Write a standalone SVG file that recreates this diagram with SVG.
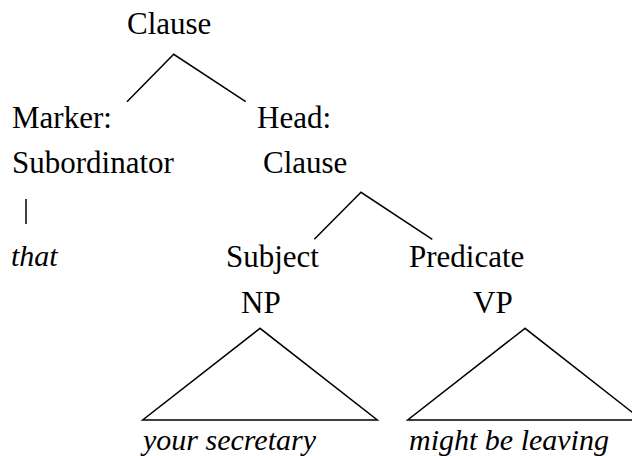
<svg xmlns="http://www.w3.org/2000/svg" width="632" height="456" viewBox="0 0 632 456">
<rect width="632" height="456" fill="#fff"/>
<g id="connectors" stroke="#000" stroke-width="1.5" fill="none">
<polyline points="127,101.7 173.7,54.3 245.7,101.7"/>
<polyline points="314.3,239.3 361,192.3 432.3,239.3"/>
<line x1="26" y1="199" x2="26" y2="224"/>
<polygon points="260,328.3 142.7,420 377.3,420"/>
<polygon points="525,328.3 407.7,420 642,420"/>
</g>
<g id="n-clause"><text x="127" y="34" font-family="Liberation Serif" font-size="31">Clause</text></g>
<g id="n-marker"><text x="12" y="128" font-family="Liberation Serif" font-size="31">Marker:</text><text x="12" y="173" font-family="Liberation Serif" font-size="31">Subordinator</text></g>
<g id="n-head"><text x="257" y="128" font-family="Liberation Serif" font-size="31">Head:</text><text x="263" y="173" font-family="Liberation Serif" font-size="31">Clause</text></g>
<g id="n-that"><text x="11" y="266" font-family="Liberation Serif" font-style="italic" font-size="30">that</text></g>
<g id="n-subject"><text x="226" y="267" font-family="Liberation Serif" font-size="31">Subject</text><text x="241" y="312.7" font-family="Liberation Serif" font-size="31">NP</text></g>
<g id="n-predicate"><text x="409" y="267" font-family="Liberation Serif" font-size="31">Predicate</text><text x="473" y="312.7" font-family="Liberation Serif" font-size="31">VP</text></g>
<g id="n-your"><text x="143" y="450" font-family="Liberation Serif" font-style="italic" font-size="30">your secretary</text></g>
<g id="n-might"><text x="409" y="450" font-family="Liberation Serif" font-style="italic" font-size="30">might be leaving</text></g>
</svg>
